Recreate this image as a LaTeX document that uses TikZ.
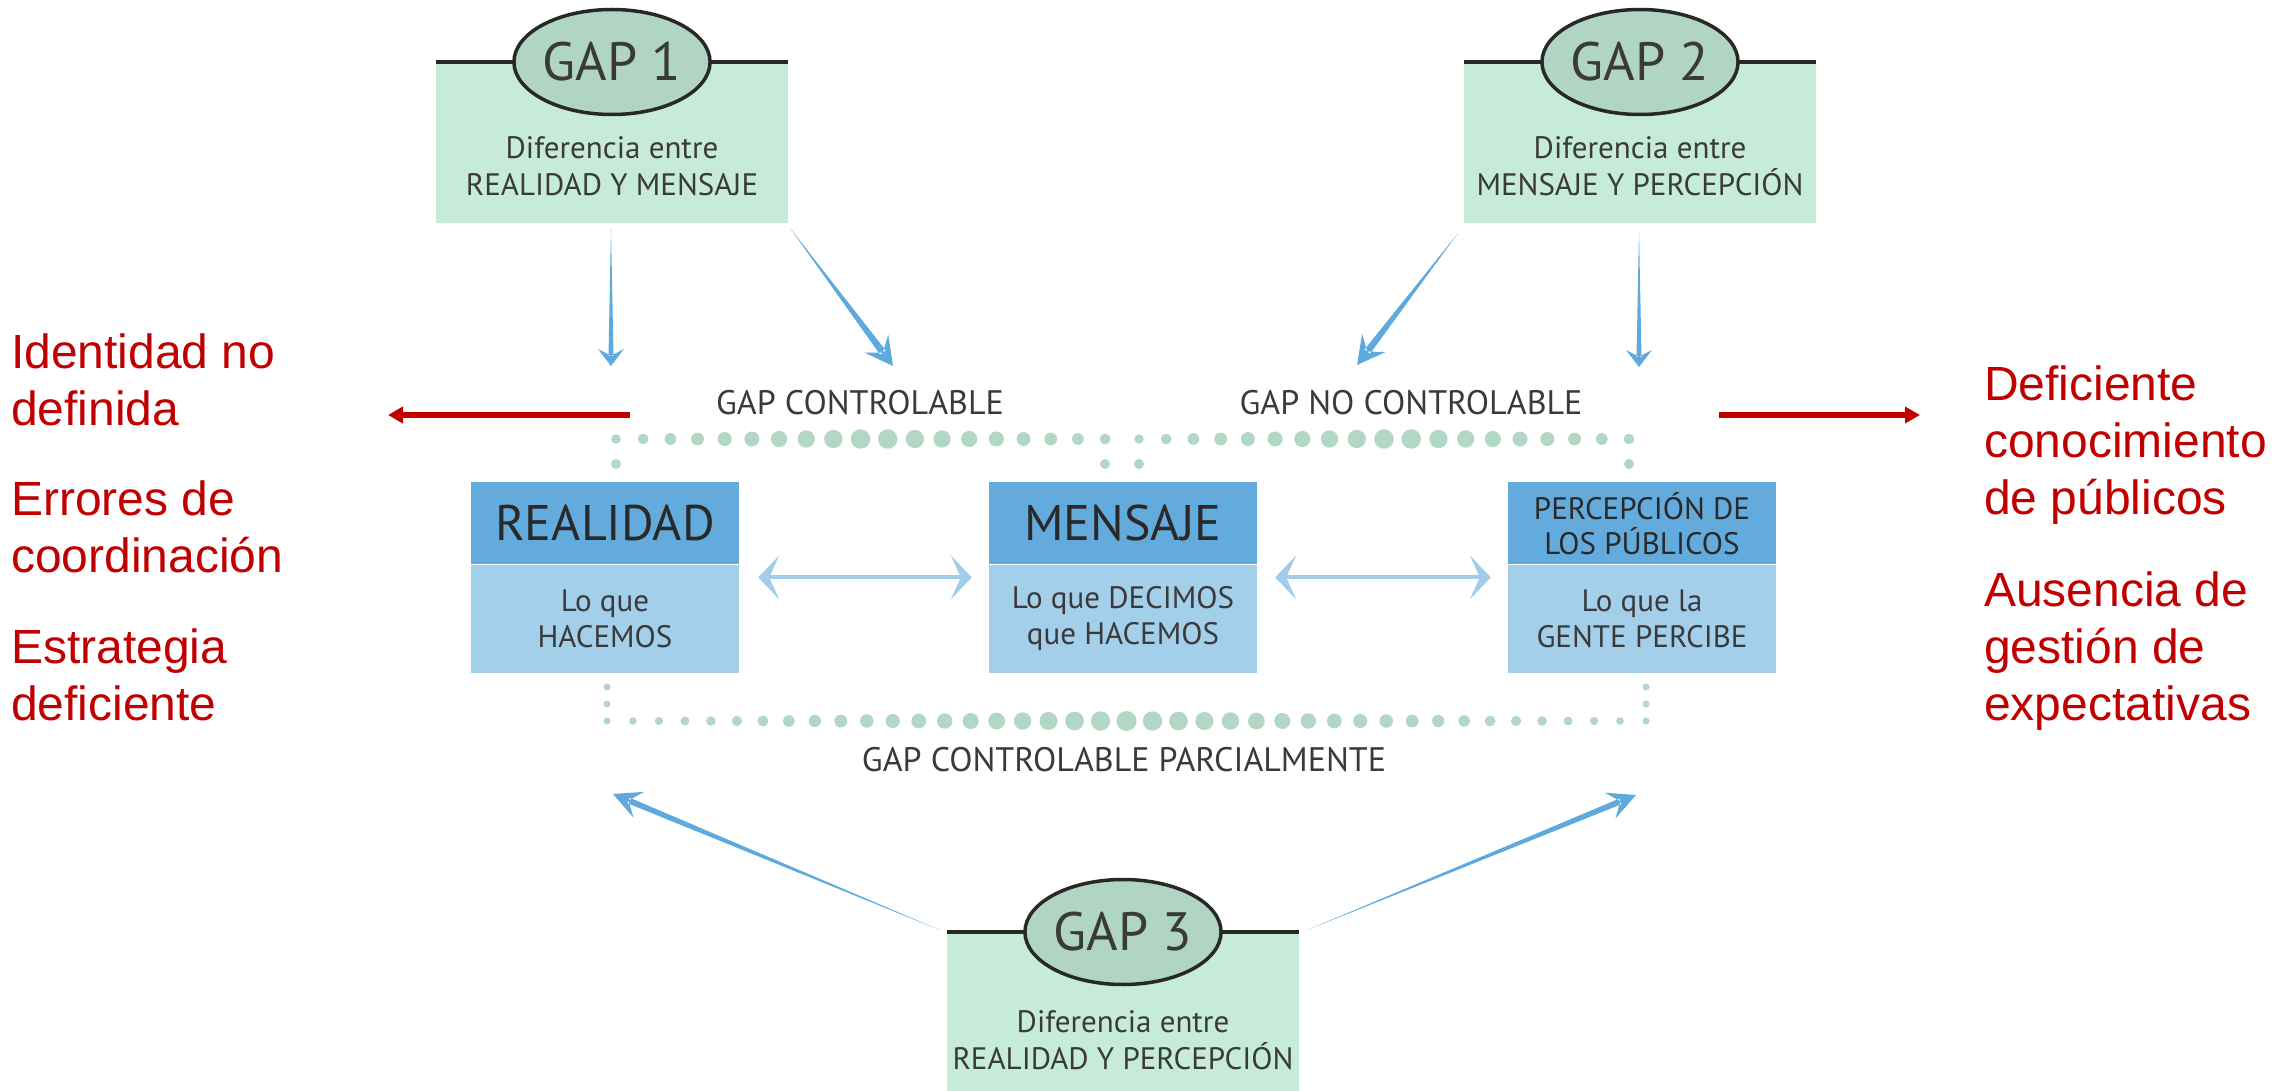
\documentclass[tikz,border=0pt]{standalone}
\usepackage{fontspec}
\setmainfont{PT Sans}
\newfontfamily\redfont{Liberation Sans}
\usetikzlibrary{positioning, calc, arrows.meta, shapes.geometric}

\definecolor{gapgreen}{RGB}{198,236,217}
\definecolor{ovalgreen}{RGB}{176,214,195}
\definecolor{dotgreen}{RGB}{178,216,197}
\definecolor{headblue}{RGB}{100,171,221}
\definecolor{bodyblue}{RGB}{164,207,235}
\definecolor{arrowblue}{RGB}{94,170,222}
\definecolor{paleblue}{RGB}{162,205,234}
\definecolor{darkred}{RGB}{192,0,0}
\definecolor{textgray}{RGB}{58,58,58}
\definecolor{linegray}{RGB}{40,40,40}

% from, to, shaft half width, head length, head half width
\newcommand\taperarrow[5]{%
  \fill[arrowblue] let \p1=($(#2)!#4!(#1)$), \p2=($(#2)!0.6*#4!(#1)$) in
    (#1) -- ($(\p2)!#3!90:(#1)$) -- ($(\p2)!#3!-90:(#1)$) -- cycle
    (#2) -- ($(\p1)!#5!90:(#1)$) -- (\p2) -- ($(\p1)!#5!-90:(#1)$) -- cycle;
}

\begin{document}
\begin{tikzpicture}[x=1pt, y=-1pt,
  gapbox/.style={fill=gapgreen, minimum width=352pt, minimum height=161pt, inner sep=0pt, anchor=north},
  gapline/.style={linegray, line width=4pt},
  gapoval/.style={ellipse, draw=linegray, line width=3.5pt, fill=ovalgreen, minimum width=190pt,
    minimum height=105pt, inner sep=0pt, text=textgray, font=\fontsize{54}{60}\selectfont},
  gaptext/.style={align=center, inner sep=0pt, text=textgray, font=\fontsize{31}{37}\selectfont},
  headbox/.style={anchor=north, fill=headblue, minimum width=268pt, minimum height=82pt, inner sep=0pt,
    align=center, text=textgray!70!black, font=\fontsize{50}{56}\selectfont},
  bodybox/.style={fill=bodyblue, minimum width=268pt, minimum height=108pt, inner sep=0pt,
    align=center, text=textgray, font=\fontsize{31}{36}\selectfont},
  gaplabel/.style={inner sep=0pt, text=textgray, font=\fontsize{34}{38}\selectfont},
  twoway/.style={paleblue, line width=4pt,
    {Stealth[length=21pt, width=44pt, inset=10pt]}-{Stealth[length=21pt, width=44pt, inset=10pt]}},
  redarrow/.style={darkred, line width=5.5pt, -{Triangle[length=15pt, width=16pt]}},
  redtext/.style={anchor=base west, align=left, inner sep=0pt, text=darkred,
    font=\redfont\fontsize{48}{57}\selectfont}]

\useasboundingbox (0,0) rectangle (2295,1091);

% gap 1
\node[gapbox] (boxA) at (612,62) {};
\draw[gapline] (boxA.north west) -- (boxA.north east);
\node[gapoval] (gapA) at (boxA.north) {GAP 1};
\node[gaptext] (txtA) at (612,166) {Diferencia entre\\REALIDAD Y MENSAJE};

% gap 2
\node[gapbox] (boxB) at (1640,62) {};
\draw[gapline] (boxB.north west) -- (boxB.north east);
\node[gapoval] (gapB) at (boxB.north) {GAP 2};
\node[gaptext] (txtB) at (1640,166) {Diferencia entre\\MENSAJE Y PERCEPCIÓN};

% gap 3
\node[gapbox, minimum height=165pt] (boxC) at (1123,932) {};
\draw[gapline] (boxC.north west) -- (boxC.north east);
\node[gapoval] (gapC) at (boxC.north) {GAP 3};
\node[gaptext] (txtC) at (1123,1040) {Diferencia entre\\REALIDAD Y PERCEPCIÓN};

% the three boxes
\node[headbox] (realHead) at (605,482) {REALIDAD};
\node[bodybox, below=0pt of realHead] (realBody) {Lo que\\HACEMOS};
\node[headbox] (mensHead) at (1123,482) {MENSAJE};
\node[bodybox, below=0pt of mensHead] (mensBody) {Lo que DECIMOS\\que HACEMOS};
\node[headbox, font=\fontsize{31}{35}\selectfont] (percHead) at (1642,482) {PERCEPCIÓN DE\\LOS PÚBLICOS};
\node[bodybox, below=0pt of percHead] (percBody) {Lo que la\\GENTE PERCIBE};

\draw[twoway] ([xshift=19pt, yshift=-13pt]realHead.south east) -- ([xshift=-17pt, yshift=-13pt]mensHead.south west);
\draw[twoway] ([xshift=18pt, yshift=-13pt]mensHead.south east) -- ([xshift=-17pt, yshift=-13pt]percHead.south west);

% dotted brackets
\foreach \i in {0,...,18}{
  \pgfmathsetmacro\r{(20-1.1*abs(\i-9.5))/2}
  \fill[dotgreen] ({616+27.17*\i},439) circle[radius=\r pt];
  \fill[dotgreen] ({1139+27.22*\i},439) circle[radius=\r pt];
}
\foreach \x in {616,1105,1139,1629}
  \fill[dotgreen] (\x,464) circle[radius=5pt];
\foreach \i in {0,...,40}{
  \pgfmathsetmacro\r{(20-13*abs(\i-20)/20)/2}
  \fill[dotgreen] ({607+25.975*\i},721) circle[radius=\r pt];
}
\foreach \x in {607,1646}
  \foreach \y in {687,704}
    \fill[dotgreen] (\x,\y) circle[radius=3.5pt];

\node[gaplabel] (ctrl) at (860,403) {GAP CONTROLABLE};
\node[gaplabel] (noctrl) at (1411,403) {GAP NO CONTROLABLE};
\node[gaplabel] (partial) at (1124,760) {GAP CONTROLABLE PARCIALMENTE};

% blue arrows
\coordinate (fromA1) at ($(boxA.south)+(-1,5)$);
\coordinate (fromA2) at ($(boxA.south east)+(2,5)$);
\coordinate (fromB1) at ($(boxB.south west)+(-6,10)$);
\coordinate (fromB2) at ($(boxB.south)+(-1,7)$);
\coordinate (fromC1) at ($(boxC.north west)+(-7,-2)$);
\coordinate (fromC2) at ($(boxC.north east)+(8,-2)$);
\coordinate (toA1) at (611,366);
\coordinate (toA2) at (893,366);
\coordinate (toB1) at (1357,365);
\coordinate (toB2) at (1639,367);
\coordinate (toC1) at (613,794);
\coordinate (toC2) at (1636,795);
\taperarrow{fromA1}{toA1}{2.5pt}{17pt}{13pt}
\taperarrow{fromA2}{toA2}{3.5pt}{28pt}{15pt}
\taperarrow{fromB1}{toB1}{3.5pt}{28pt}{15pt}
\taperarrow{fromB2}{toB2}{2.5pt}{17pt}{13pt}
\taperarrow{fromC1}{toC1}{3pt}{28pt}{14pt}
\taperarrow{fromC2}{toC2}{3pt}{28pt}{14pt}

% red arrows and texts (anchored at the last line)
\coordinate (redLs) at (630,415);
\coordinate (redLe) at (388,415);
\coordinate (redRs) at (1719,415);
\coordinate (redRe) at (1920,415);
\draw[redarrow] (redLs) -- (redLe);
\draw[redarrow] (redRs) -- (redRe);

\node[redtext] (errA) at (11,425) {Identidad no\\definida};
\node[redtext] (errB) at (11,572) {Errores de\\coordinación};
\node[redtext] (errC) at (11,720) {Estrategia\\deficiente};
\node[redtext] (errD) at (1984,514) {Deficiente\\conocimiento\\de públicos};
\node[redtext] (errE) at (1984,720) {Ausencia de\\gestión de\\expectativas};

\end{tikzpicture}
\end{document}
